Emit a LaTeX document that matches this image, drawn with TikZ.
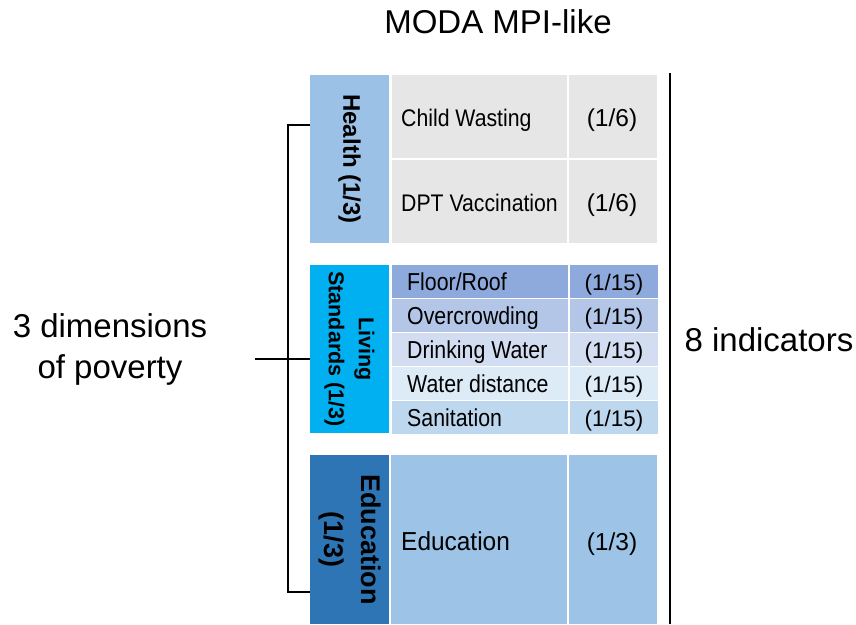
\documentclass[tikz,border=0pt]{standalone}
\usepackage{graphicx}
\usepackage{fontspec}
\setmainfont{Liberation Sans}
\usetikzlibrary{
    positioning,
    calc
  }
\definecolor{healthcolor}{RGB}{155,194,230}
\definecolor{healthcell}{RGB}{231,230,230}
\definecolor{livingcolor}{RGB}{0,176,240}
\definecolor{livingcell1}{RGB}{142,169,219}
\definecolor{livingcell2}{RGB}{180,198,231}
\definecolor{livingcell3}{RGB}{210,221,241}
\definecolor{livingcell4}{RGB}{221,235,247}
\definecolor{livingcell5}{RGB}{189,215,238}
\definecolor{educationcolor}{RGB}{46,117,182}
\definecolor{educationcell}{RGB}{157,195,230}
\newcommand{\squeeze}[2]{\scalebox{#1}[1]{#2}}
\tikzset{
  dimlabel/.style={font=\bfseries, rotate=-90, align=center, inner sep=0pt},
  celltext/.style={anchor=mid west, inner sep=0pt, font=\fontsize{#1}{#1}\selectfont},
  weighttext/.style={anchor=mid, inner sep=0pt, font=\fontsize{#1}{#1}\selectfont},
  bigtext/.style={align=center, inner sep=0pt, font=\fontsize{33}{41}\selectfont},
}

\begin{document}
\begin{tikzpicture}[x=1pt, y=-1pt]

\useasboundingbox (0,0) rectangle (856,624);

\path[]
  (498,22) node[font=\fontsize{33}{40}\selectfont] (title) {MODA MPI-like}
;

% health
\path[fill=healthcolor]
  (310,75) coordinate (topleft_health) rectangle (389,243) coordinate (bottomright_health)
;
\path[]
  ($(topleft_health)!0.5!(bottomright_health)$) node[dimlabel, font=\fontsize{24}{28}\selectfont\bfseries] (label_health) {Health (1/3)}
;
\path[fill=healthcell] (392,75) rectangle (567,158);
\path[fill=healthcell] (569,75) rectangle (657,158);
\path[fill=healthcell] (392,160) rectangle (567,243);
\path[fill=healthcell] (569,160) rectangle (657,243);
\path[]
  (401,124) node[celltext=24] (ind_wasting) {\squeeze{0.885}{Child Wasting}}
  (612,124) node[weighttext=24.5] (w_wasting) {(1/6)}
  (401,209) node[celltext=24] (ind_dpt) {\squeeze{0.885}{DPT Vaccination}}
  (612,209) node[weighttext=24.5] (w_dpt) {(1/6)}
;

% living standards
\path[fill=livingcolor]
  (310,265) coordinate (topleft_living) rectangle (389,433) coordinate (bottomright_living)
;
\path[]
  ($(topleft_living)!0.5!(bottomright_living)$) node[dimlabel, font=\fontsize{21.5}{30}\selectfont\bfseries] (label_living) {Living\\Standards (1/3)}
;
\foreach \name [count=\i] in {Floor/Roof, Overcrowding, Drinking Water, Water distance, Sanitation} {
  \pgfmathsetmacro{\rowtop}{265+34*(\i-1)}
  \path[fill=livingcell\i] (392,\rowtop) rectangle (568,\rowtop+33);
  \path[fill=livingcell\i] (570,\rowtop) rectangle (658,\rowtop+33);
  \path[]
    (407,\rowtop+23) node[celltext=24.5] (ind_living_\i) {\squeeze{0.87}{\name}}
    (614,\rowtop+23) node[weighttext=22.5] (w_living_\i) {(1/15)}
  ;
}

% education
\path[fill=educationcolor]
  (310,455) coordinate (topleft_education) rectangle (389,624) coordinate (bottomright_education)
;
\path[]
  ($(topleft_education)!0.5!(bottomright_education)$) node[dimlabel, font=\fontsize{27}{37}\selectfont\bfseries] (label_education) {Education\\(1/3)}
;
\path[fill=educationcell] (391,455) rectangle (567,624);
\path[fill=educationcell] (569,455) rectangle (657,624);
\path[]
  (401,548) node[celltext=26] (ind_education) {\squeeze{0.94}{Education}}
  (612,548) node[weighttext=24.5] (w_education) {(1/3)}
;

% bracket on the left, line on the right
\path[]
  (310,125) coordinate (bracket_top)
  (310,592) coordinate (bracket_bottom)
  (310,359) coordinate (bracket_mid)
  (255,359) coordinate (bracket_tip)
  (670,73) coordinate (split_top)
  (670,624) coordinate (split_bottom)
;
\path[draw, line width=1.2pt]
  (bracket_top) -- ++(-22,0) |- (bracket_bottom)
;
\path[draw, line width=1.2pt] (bracket_tip) -- (bracket_mid);
\path[draw, line width=1.5pt] (split_top) -- (split_bottom);

\path[]
  (110,349) node[bigtext] (dimensions) {3 dimensions\\of poverty}
  (769,340) node[bigtext] (indicators) {8 indicators}
;

\end{tikzpicture}
\end{document}
